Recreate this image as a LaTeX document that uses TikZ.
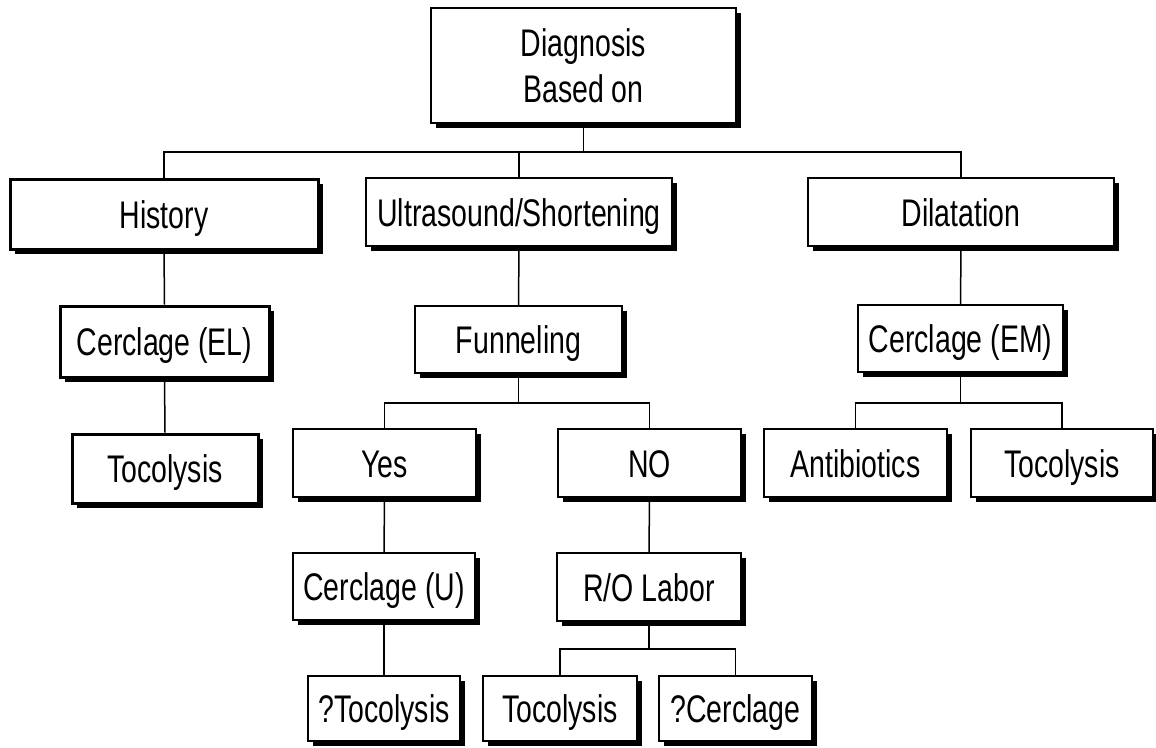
\documentclass[tikz,border=0pt]{standalone}
\usepackage{fontspec}
\setmainfont{Liberation Sans}[FakeStretch=0.74]
\usetikzlibrary{shadows}
\begin{document}
\begin{tikzpicture}[x=1pt,y=-1pt,
  basebox/.style={draw=black,fill=white,line width=1.5pt,inner sep=0pt,align=center,
    font=\fontsize{38.5}{46}\selectfont,
    drop shadow={shadow xshift=5pt,shadow yshift=-5pt,fill=black,opacity=1}},
  box/.style={basebox,text height=28pt,text depth=0pt},
  boldbox/.style={box,line width=3pt},
  link/.style={draw=black,line width=1.5pt}]
\useasboundingbox (0,0) rectangle (1156,747);
% level 0
\node[basebox,line width=2pt,minimum width=305pt,minimum height=115pt] (diag) at (583.5,65.5) {Diagnosis\\Based on};
% level 1
\node[boldbox,minimum width=308pt,minimum height=70pt] (hist) at (164,214) {History};
\node[box,minimum width=306pt,minimum height=68pt] (ultra) at (519,212) {Ultrasound/Shortening};
\node[box,minimum width=306pt,minimum height=68pt] (dil) at (961,212) {Dilatation};
% level 2
\node[boldbox,minimum width=209pt,minimum height=71pt] (cel) at (164.5,341.5) {Cerclage (EL)};
\node[box,minimum width=207pt,minimum height=67pt] (fun) at (518.5,339.5) {Funneling};
\node[box,minimum width=205pt,minimum height=67pt] (cem) at (960.5,338.5) {Cerclage (EM)};
% level 3
\node[boldbox,minimum width=186pt,minimum height=69pt] (tocA) at (165,468.5) {Tocolysis};
\node[box,minimum width=183pt,minimum height=68pt] (yes) at (384.5,463) {Yes};
\node[box,minimum width=183pt,minimum height=68pt] (no) at (649.5,463) {NO};
\node[box,minimum width=183pt,minimum height=68pt] (anti) at (855.5,463) {Antibiotics};
\node[box,minimum width=182pt,minimum height=68pt] (tocB) at (1062,463) {Tocolysis};
% level 4
\node[box,minimum width=182pt,minimum height=67pt] (cu) at (384,586.5) {Cerclage (U)};
\node[box,minimum width=184pt,minimum height=68pt] (ro) at (649,587) {R/O Labor};
% level 5
\node[box,minimum width=152pt,minimum height=65pt] (qtoc) at (384,708.5) {?Tocolysis};
\node[box,minimum width=154pt,minimum height=65pt] (tocC) at (560,708.5) {Tocolysis};
\node[box,minimum width=153pt,minimum height=65pt] (qcer) at (735.5,708.5) {?Cerclage};
% buses
\coordinate (b0) at (583.5,152);
\coordinate (b1) at (518.5,403);
\coordinate (b2) at (960.5,403);
\coordinate (b3) at (649,649);
% connectors
\draw[link] (diag.south) -- (b0);
\draw[link] (hist.north) |- (b0) -| (dil.north);
\draw[link] (ultra.north) -- (ultra.north |- b0);
\draw[link] (hist.south) -- (cel.north);
\draw[link] (cel.south) -- (tocA.north);
\draw[link] (ultra.south) -- (fun.north);
\draw[link] (fun.south) -- (b1);
\draw[link] (yes.north) |- (b1) -| (no.north);
\draw[link] (dil.south) -- (cem.north);
\draw[link] (cem.south) -- (b2);
\draw[link] (anti.north) |- (b2) -| (tocB.north);
\draw[link] (yes.south) -- (cu.north);
\draw[link] (cu.south) -- (qtoc.north);
\draw[link] (no.south) -- (ro.north);
\draw[link] (ro.south) -- (b3);
\draw[link] (tocC.north) |- (b3) -| (qcer.north);
\end{tikzpicture}
\end{document}
